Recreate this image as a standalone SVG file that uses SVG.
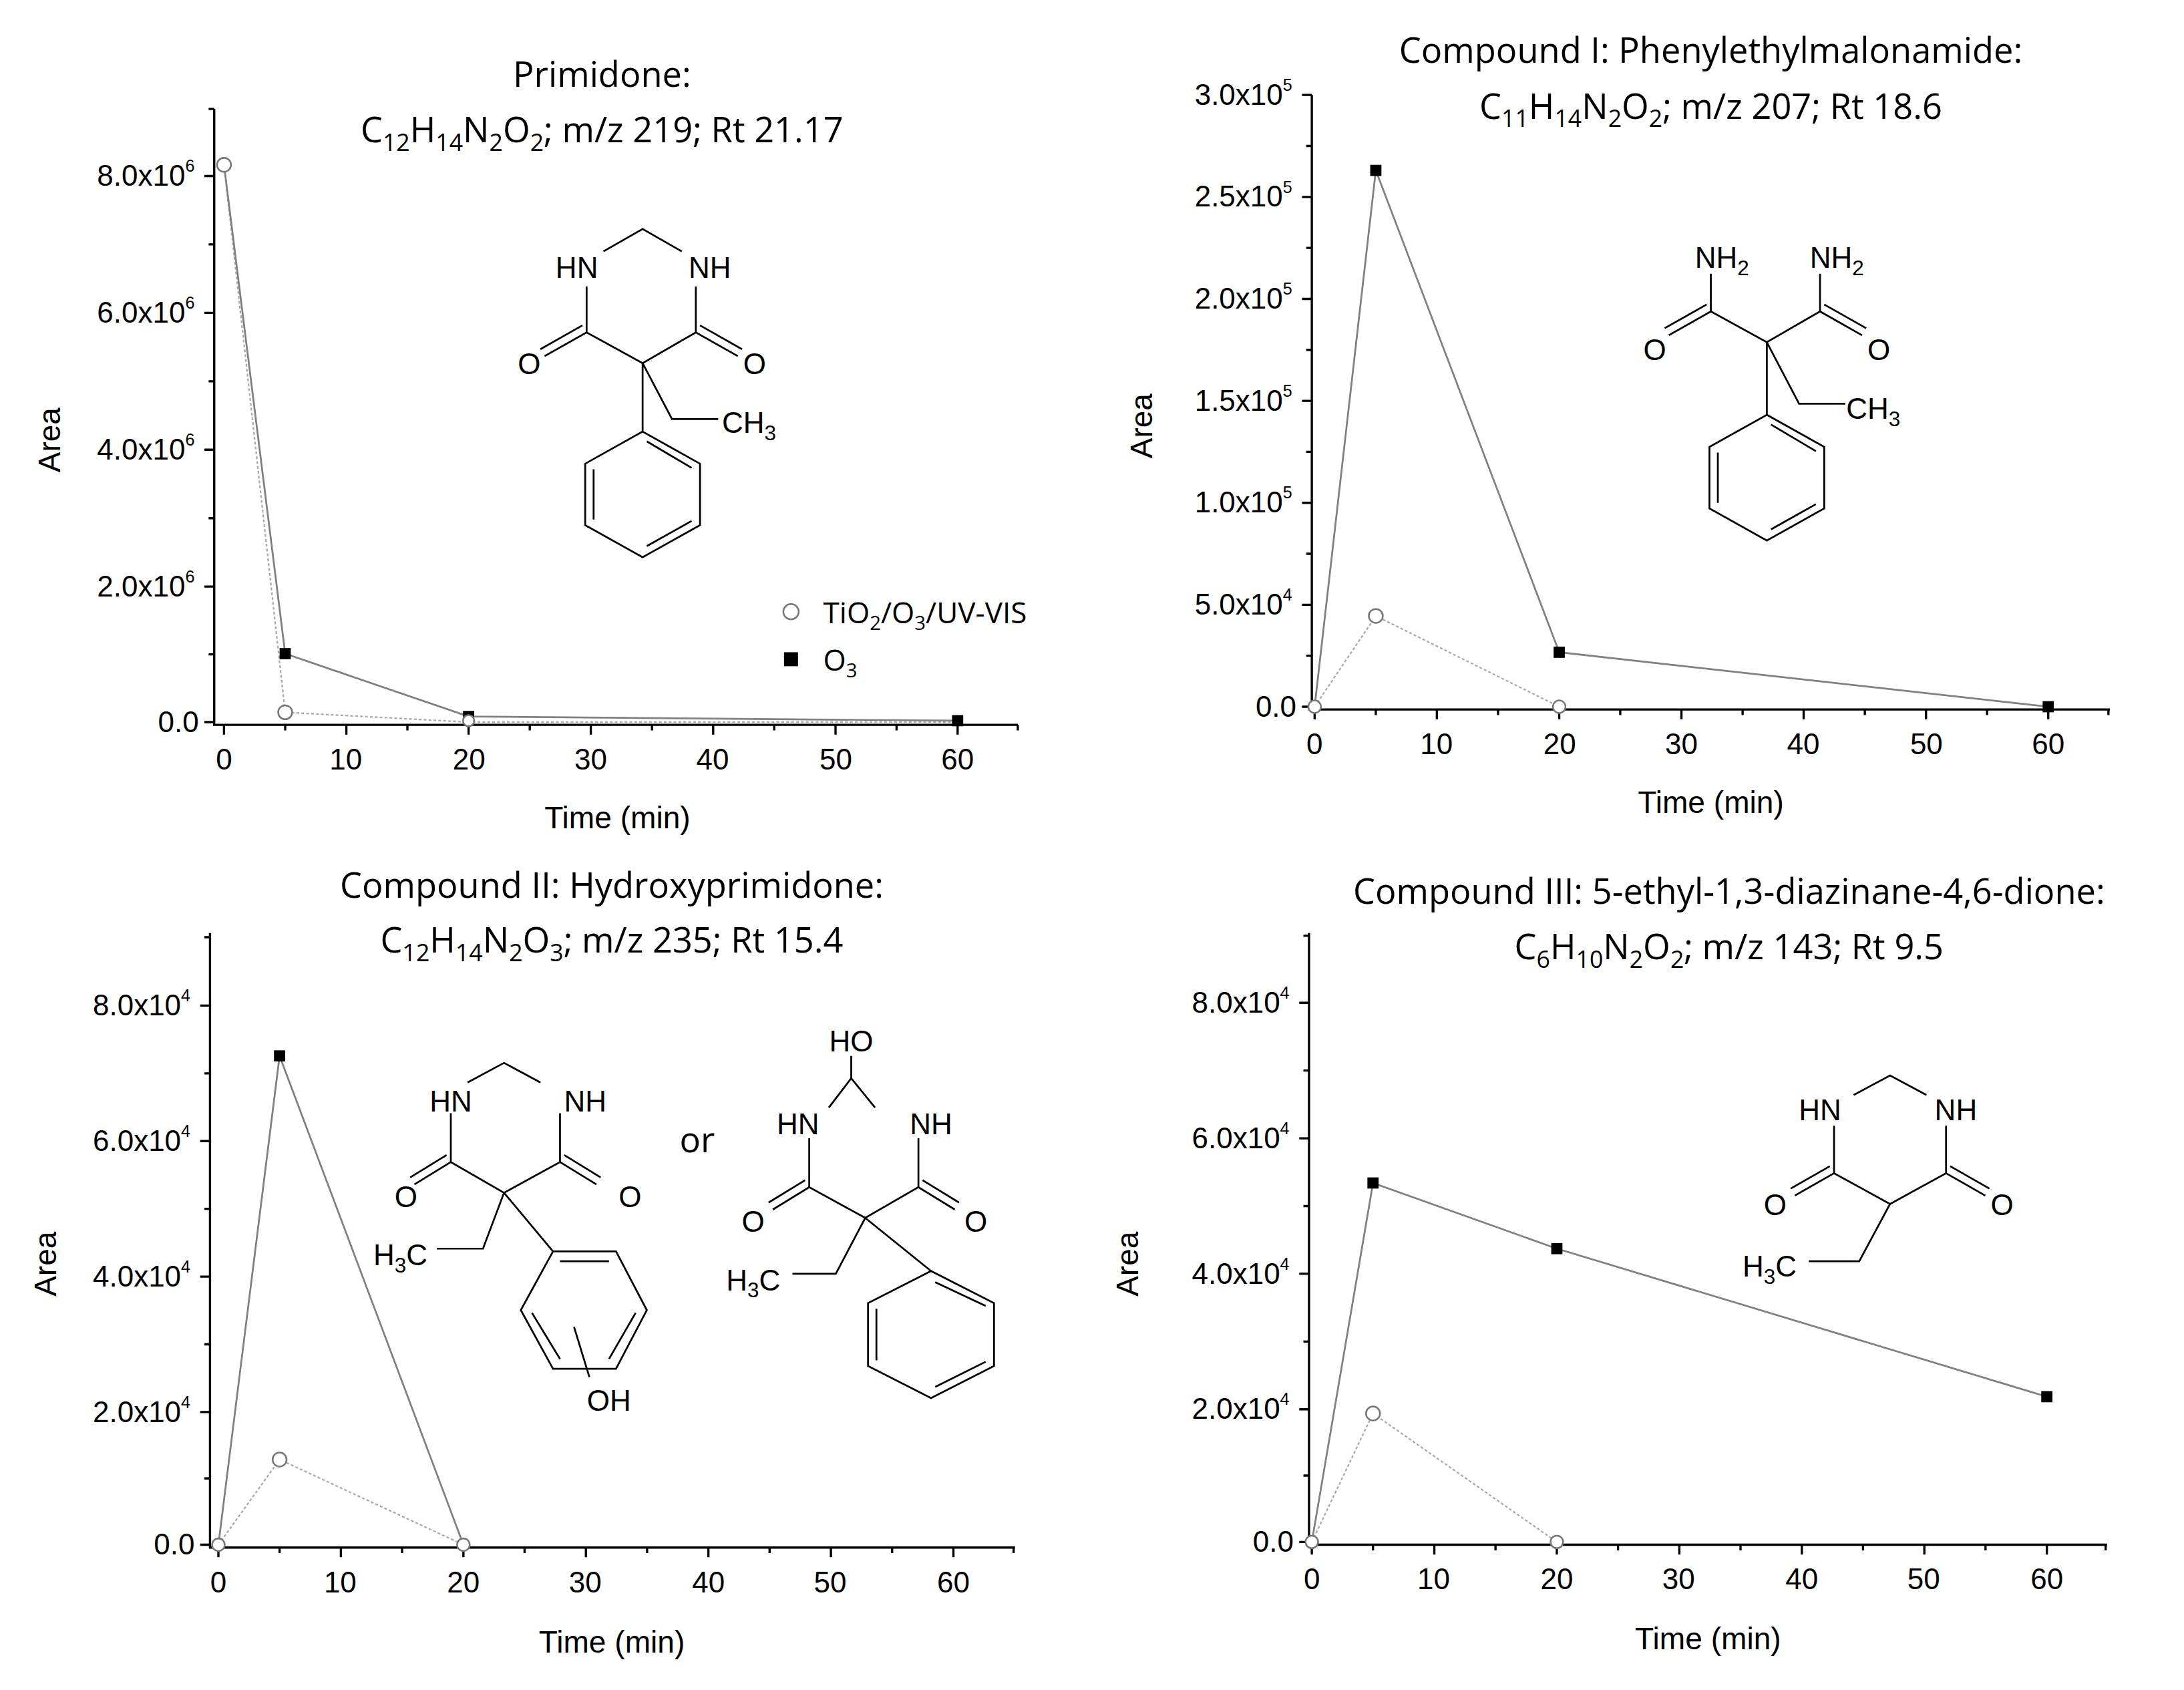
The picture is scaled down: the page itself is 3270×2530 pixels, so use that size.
<svg xmlns="http://www.w3.org/2000/svg" width="3270" height="2530" viewBox="0 0 3270 2530">
<style>
.ax{stroke:#000;stroke-width:1.6;fill:none}
.o3{stroke:#808080;stroke-width:1.3;fill:none}
.ti{stroke:#aaa;stroke-width:1.1;fill:none;stroke-dasharray:2,1.5}
.sq{fill:#000}
.ci{fill:#fff;stroke:#777;stroke-width:1.2}
.bd{stroke:#000;stroke-width:1.3;fill:none}
text{font-family:"Liberation Sans",Arial,sans-serif}
.tl{font-size:21px;text-anchor:middle}
.yl{font-size:21px;text-anchor:end}
.at{font-size:22px;text-anchor:middle}
.tt{font-family:"Open Sans","Liberation Sans",sans-serif;font-size:25px;text-anchor:middle}
.ch{font-size:21px;text-anchor:middle}
.lg{font-family:"Open Sans","Liberation Sans",sans-serif;font-size:21px}
</style>
<rect width="3270" height="2530" fill="#fff"/>
<g transform="scale(2.0962,2.0909)">
<!-- Panel 1 -->
<g id="panel1">
<text class="tt" x="430" y="62">Primidone:</text>
<text class="tt" x="430" y="102">C<tspan font-size="17" dy="6">12</tspan><tspan dy="-6">H</tspan><tspan font-size="17" dy="6">14</tspan><tspan dy="-6">N</tspan><tspan font-size="17" dy="6">2</tspan><tspan dy="-6">O</tspan><tspan font-size="17" dy="6">2</tspan><tspan dy="-6">; m/z 219; Rt 21.17</tspan></text>
<path class="ax" d="M153,78V519H727"/>
<path class="ax" d="M160,519v7M247.4,519v7M334.7,519v7M422,519v7M509.4,519v7M596.8,519v7M684,519v7M203.7,519v4M291,519v4M378.4,519v4M465.7,519v4M553,519v4M640.4,519v4M727,519v4M153,517h-7M153,420h-7M153,322h-7M153,224h-7M153,126h-7M153,468.5h-4M153,371h-4M153,273h-4M153,175h-4M153,78h-4"/>
<g class="tl"><text x="160" y="551">0</text><text x="247" y="551">10</text><text x="335" y="551">20</text><text x="422" y="551">30</text><text x="509" y="551">40</text><text x="597" y="551">50</text><text x="684" y="551">60</text></g>
<g class="yl"><text x="142" y="524">0.0</text><text x="139" y="427">2.0x10<tspan font-size="12" dy="-10">6</tspan></text><text x="139" y="329">4.0x10<tspan font-size="12" dy="-10">6</tspan></text><text x="139" y="231">6.0x10<tspan font-size="12" dy="-10">6</tspan></text><text x="139" y="133">8.0x10<tspan font-size="12" dy="-10">6</tspan></text></g>
<text class="at" x="441" y="593">Time (min)</text>
<text class="at" transform="translate(43,315) rotate(-90)">Area</text>
<polyline class="ti" points="160,118 203.7,510 334.7,517 684,517"/>
<polyline class="o3" points="160,118 203.7,468 334.7,513 684,516"/>
<rect class="sq" x="199.7" y="464" width="8" height="8"/><rect class="sq" x="330.7" y="509" width="8" height="8"/><rect class="sq" x="680" y="512" width="8" height="8"/>
<circle class="ci" cx="160" cy="118" r="5"/><circle class="ci" cx="203.7" cy="510" r="5"/><circle class="ci" cx="334.7" cy="516" r="4"/>
<circle class="ci" cx="565" cy="438" r="5.5"/><text class="lg" x="588" y="446">TiO<tspan font-size="14" dy="5">2</tspan><tspan dy="-5">/O</tspan><tspan font-size="14" dy="5">3</tspan><tspan dy="-5">/UV-VIS</tspan></text>
<rect class="sq" x="560" y="467" width="10" height="10"/><text class="lg" x="588" y="480">O<tspan font-size="14" dy="5">3</tspan></text>
<path class="bd" d="M431,180L459,164L487,180M419,205V238L459,260L497,238V205M419,238L389,255M416,233L386,250M497,238L527,255M500,233L530,250M459,260L480,300H513M459,260V309M459,309L500,332V376L459,399L418,376V332Z M424,336V372M462,391L494,373M462,316L494,335"/>
<g class="ch"><text x="412" y="199">HN</text><text x="507" y="199">NH</text><text x="378" y="268">O</text><text x="539" y="268">O</text><text x="535" y="310">CH<tspan font-size="15" dy="5">3</tspan></text></g>
</g>
<!-- Panel 2 -->
<g id="panel2">
<text class="tt" x="1222" y="45">Compound I: Phenylethylmalonamide:</text>
<text class="tt" x="1222" y="85">C<tspan font-size="17" dy="6">11</tspan><tspan dy="-6">H</tspan><tspan font-size="17" dy="6">14</tspan><tspan dy="-6">N</tspan><tspan font-size="17" dy="6">2</tspan><tspan dy="-6">O</tspan><tspan font-size="17" dy="6">2</tspan><tspan dy="-6">; m/z 207; Rt 18.6</tspan></text>
<path class="ax" d="M937,68V508H1507"/>
<path class="ax" d="M939,508v7M1026.3,508v7M1113.7,508v7M1201,508v7M1288.3,508v7M1375.7,508v7M1463,508v7M982.7,508v4M1070,508v4M1157.3,508v4M1244.7,508v4M1332,508v4M1419.3,508v4M1506,508v4M937,506h-7M937,433h-7M937,360h-7M937,287h-7M937,214h-7M937,141h-7M937,68h-7M937,469.5h-4M937,396.5h-4M937,323.5h-4M937,250.5h-4M937,177.5h-4M937,104.5h-4"/>
<g class="tl"><text x="939" y="540">0</text><text x="1026" y="540">10</text><text x="1114" y="540">20</text><text x="1201" y="540">30</text><text x="1288" y="540">40</text><text x="1376" y="540">50</text><text x="1463" y="540">60</text></g>
<g class="yl"><text x="926" y="513">0.0</text><text x="923" y="440">5.0x10<tspan font-size="12" dy="-10">4</tspan></text><text x="923" y="367">1.0x10<tspan font-size="12" dy="-10">5</tspan></text><text x="923" y="294">1.5x10<tspan font-size="12" dy="-10">5</tspan></text><text x="923" y="221">2.0x10<tspan font-size="12" dy="-10">5</tspan></text><text x="923" y="148">2.5x10<tspan font-size="12" dy="-10">5</tspan></text><text x="923" y="75">3.0x10<tspan font-size="12" dy="-10">5</tspan></text></g>
<text class="at" x="1222" y="582">Time (min)</text>
<text class="at" transform="translate(823,305) rotate(-90)">Area</text>
<polyline class="ti" points="939,506 982.7,441 1113.7,506"/>
<polyline class="o3" points="939,506 982.7,122 1113.7,467 1463,506"/>
<rect class="sq" x="978.7" y="118" width="8" height="8"/><rect class="sq" x="1109.7" y="463" width="8" height="8"/><rect class="sq" x="1459" y="502" width="8" height="8"/>
<circle class="ci" cx="939" cy="506" r="4.5"/><circle class="ci" cx="982.7" cy="441" r="5"/><circle class="ci" cx="1113.7" cy="506" r="4.5"/>
<path class="bd" d="M1222,196V223L1262,245L1300,223V196M1222,223L1192,240M1219,218L1189,235M1300,223L1330,240M1303,218L1333,235M1262,245L1285,289H1318M1262,245V297M1262,297L1303,320V364L1262,387L1221,364V320Z M1227,324V360M1265,379L1297,361M1265,304L1297,323"/>
<g class="ch"><text x="1230" y="192">NH<tspan font-size="15" dy="5">2</tspan></text><text x="1312" y="192">NH<tspan font-size="15" dy="5">2</tspan></text><text x="1182" y="258">O</text><text x="1342" y="258">O</text><text x="1338" y="300">CH<tspan font-size="15" dy="5">3</tspan></text></g>
</g>
<!-- Panel 3 -->
<g id="panel3">
<text class="tt" x="437" y="643">Compound II: Hydroxyprimidone:</text>
<text class="tt" x="437" y="682">C<tspan font-size="17" dy="6">12</tspan><tspan dy="-6">H</tspan><tspan font-size="17" dy="6">14</tspan><tspan dy="-6">N</tspan><tspan font-size="17" dy="6">2</tspan><tspan dy="-6">O</tspan><tspan font-size="17" dy="6">3</tspan><tspan dy="-6">; m/z 235; Rt 15.4</tspan></text>
<path class="ax" d="M150,668V1108H725"/>
<path class="ax" d="M156,1108v7M243.5,1108v7M331,1108v7M418.5,1108v7M506,1108v7M593.5,1108v7M681,1108v7M199.7,1108v4M287.2,1108v4M374.7,1108v4M462.2,1108v4M549.7,1108v4M637.2,1108v4M724,1108v4M150,1106h-7M150,1011h-7M150,914h-7M150,817h-7M150,720h-7M150,1058.5h-4M150,962.5h-4M150,865.5h-4M150,768.5h-4M150,671h-4"/>
<g class="tl"><text x="156" y="1140">0</text><text x="243" y="1140">10</text><text x="331" y="1140">20</text><text x="418" y="1140">30</text><text x="506" y="1140">40</text><text x="593" y="1140">50</text><text x="681" y="1140">60</text></g>
<g class="yl"><text x="139" y="1113">0.0</text><text x="136" y="1018">2.0x10<tspan font-size="12" dy="-10">4</tspan></text><text x="136" y="921">4.0x10<tspan font-size="12" dy="-10">4</tspan></text><text x="136" y="824">6.0x10<tspan font-size="12" dy="-10">4</tspan></text><text x="136" y="727">8.0x10<tspan font-size="12" dy="-10">4</tspan></text></g>
<text class="at" x="437" y="1183">Time (min)</text>
<text class="at" transform="translate(40,905) rotate(-90)">Area</text>
<polyline class="ti" points="156,1106 199.7,1045 331,1106"/>
<polyline class="o3" points="156,1106 199.7,756 331,1106"/>
<rect class="sq" x="195.7" y="752" width="8" height="8"/>
<circle class="ci" cx="156" cy="1106" r="4.5"/><circle class="ci" cx="199.7" cy="1045" r="5"/><circle class="ci" cx="331" cy="1106" r="4.5"/>
<path class="bd" d="M334,775L360,761L386,775M322,797V832L360,854L400,832V797M322,832L296,848M319,827L293,843M400,832L426,848M403,827L429,843M360,854L345,894H312M360,854L395,896M395,896H440L462,938L440,980H395L372,938Z M400,903H435M454,940L435,973M380,940L400,973M410,950L421,986"/>
<g class="ch"><text x="322" y="796">HN</text><text x="418" y="796">NH</text><text x="290" y="864">O</text><text x="450" y="864">O</text><text x="286" y="906">H<tspan font-size="15" dy="5">3</tspan><tspan dy="-5">C</tspan></text><text x="435" y="1010">OH</text></g>
<text class="tt" x="498" y="825">or</text>
<path class="bd" d="M608,756V772M592,793L608,772L625,793M578,815V850L618,872L656,850V815M578,850L552,866M575,845L549,861M656,850L682,866M659,845L685,861M618,872L597,912H566M618,872L665,910M665,910L710,933V978L665,1001L620,978V933Z M626,937V974M668,993L704,975M668,918L704,935"/>
<g class="ch"><text x="608" y="753">HO</text><text x="570" y="812">HN</text><text x="665" y="812">NH</text><text x="538" y="882">O</text><text x="697" y="882">O</text><text x="538" y="924">H<tspan font-size="15" dy="5">3</tspan><tspan dy="-5">C</tspan></text></g>
</g>
<!-- Panel 4 -->
<g id="panel4">
<text class="tt" x="1235" y="647">Compound III: 5-ethyl-1,3-diazinane-4,6-dione:</text>
<text class="tt" x="1235" y="687">C<tspan font-size="17" dy="6">6</tspan><tspan dy="-6">H</tspan><tspan font-size="17" dy="6">10</tspan><tspan dy="-6">N</tspan><tspan font-size="17" dy="6">2</tspan><tspan dy="-6">O</tspan><tspan font-size="17" dy="6">2</tspan><tspan dy="-6">; m/z 143; Rt 9.5</tspan></text>
<path class="ax" d="M935,668V1106H1505"/>
<path class="ax" d="M937,1106v7M1024.5,1106v7M1112,1106v7M1199.5,1106v7M1287,1106v7M1374.5,1106v7M1462,1106v7M980.7,1106v4M1068.2,1106v4M1155.7,1106v4M1243.2,1106v4M1330.7,1106v4M1418.2,1106v4M1504,1106v4M935,1104h-7M935,1009h-7M935,912h-7M935,815h-7M935,718h-7M935,1056.5h-4M935,960.5h-4M935,863.5h-4M935,766.5h-4M935,670h-4"/>
<g class="tl"><text x="937" y="1138">0</text><text x="1024" y="1138">10</text><text x="1112" y="1138">20</text><text x="1199" y="1138">30</text><text x="1287" y="1138">40</text><text x="1374" y="1138">50</text><text x="1462" y="1138">60</text></g>
<g class="yl"><text x="924" y="1111">0.0</text><text x="921" y="1016">2.0x10<tspan font-size="12" dy="-10">4</tspan></text><text x="921" y="919">4.0x10<tspan font-size="12" dy="-10">4</tspan></text><text x="921" y="822">6.0x10<tspan font-size="12" dy="-10">4</tspan></text><text x="921" y="725">8.0x10<tspan font-size="12" dy="-10">4</tspan></text></g>
<text class="at" x="1220" y="1181">Time (min)</text>
<text class="at" transform="translate(813,905) rotate(-90)">Area</text>
<polyline class="ti" points="937,1104 980.7,1012 1112,1104"/>
<polyline class="o3" points="937,1104 980.7,847 1112,894 1462,1000"/>
<rect class="sq" x="976.7" y="843" width="8" height="8"/><rect class="sq" x="1108" y="890" width="8" height="8"/><rect class="sq" x="1458" y="996" width="8" height="8"/>
<circle class="ci" cx="937" cy="1104" r="4.5"/><circle class="ci" cx="980.7" cy="1012" r="5"/><circle class="ci" cx="1112" cy="1104" r="4.5"/>
<path class="bd" d="M1324,784L1350,770L1376,784M1310,806V840L1350,862L1390,840V806M1310,840L1282,856M1307,835L1279,851M1390,840L1418,856M1393,835L1421,851M1350,862L1328,903H1292"/>
<g class="ch"><text x="1300" y="802">HN</text><text x="1397" y="802">NH</text><text x="1268" y="870">O</text><text x="1430" y="870">O</text><text x="1264" y="914">H<tspan font-size="15" dy="5">3</tspan><tspan dy="-5">C</tspan></text></g>
</g>
</g>
</svg>
